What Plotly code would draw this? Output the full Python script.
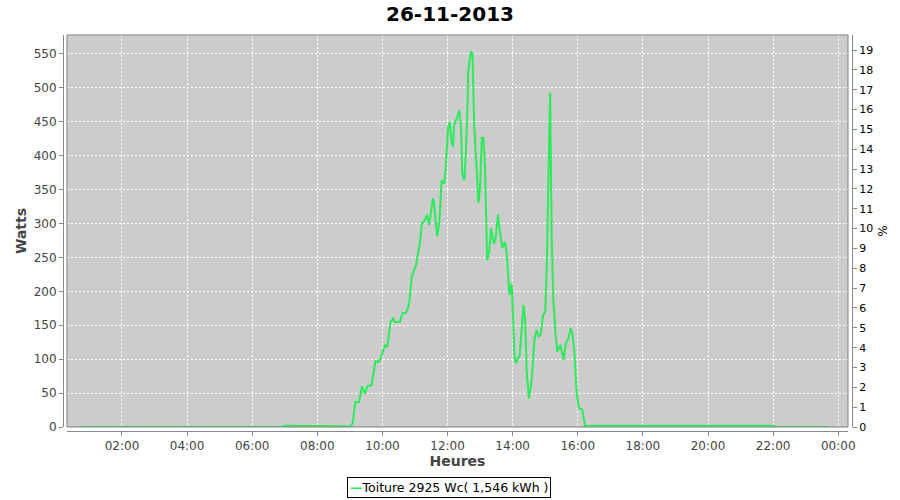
import plotly.graph_objects as go

day = "2013-11-26"
peak_wc = 2925

times = [
    "00:43", "02:00", "03:30", "05:00", "06:55", "07:00", "07:40", "08:20", "08:50", "09:00",
    "09:05", "09:10", "09:17", "09:22", "09:28", "09:32", "09:40", "09:47", "09:54", "10:05",
    "10:09", "10:15", "10:20", "10:23", "10:32", "10:37", "10:43", "10:47", "10:50", "10:54",
    "10:57", "11:02", "11:04", "11:08", "11:13", "11:17", "11:22", "11:26", "11:33", "11:35",
    "11:41", "11:45", "11:49", "11:54", "11:57", "12:01", "12:04", "12:07", "12:10", "12:12",
    "12:17", "12:22", "12:25", "12:27", "12:31", "12:34", "12:37", "12:38", "12:43", "12:46",
    "12:47", "12:49", "12:54", "12:57", "13:00", "13:03", "13:06", "13:09", "13:13", "13:17",
    "13:20", "13:25", "13:28", "13:33", "13:36", "13:41", "13:46", "13:49", "13:54", "13:58",
    "14:01", "14:03", "14:06", "14:13", "14:16", "14:20", "14:23", "14:26", "14:30", "14:35",
    "14:40", "14:44", "14:49", "14:52", "14:56", "15:00", "15:03", "15:06", "15:09", "15:12",
    "15:15", "15:19", "15:22", "15:28", "15:31", "15:34", "15:38", "15:43", "15:47", "15:50",
    "15:54", "15:58", "16:02", "16:08", "16:11", "16:14", "16:20", "18:00", "20:00", "22:00",
    "22:05", "23:44",
]
watts = [
    0, 0, 0, 0, 0, 2, 2, 2, 1, 0,
    5, 37, 37, 60, 49, 60, 62, 97, 96, 121,
    118, 155, 160, 155, 155, 168, 168, 175, 187, 222,
    229, 239, 249, 266, 301, 303, 313, 298, 337, 330,
    281, 303, 364, 359, 386, 441, 450, 423, 413, 445,
    455, 467, 438, 374, 364, 409, 477, 524, 554, 549,
    517, 448, 374, 330, 354, 426, 426, 384, 246, 261,
    293, 271, 274, 313, 291, 264, 273, 256, 195, 211,
    158, 109, 94, 106, 138, 180, 158, 79, 42, 69,
    128, 143, 133, 138, 165, 170, 241, 384, 493, 276,
    187, 138, 111, 121, 109, 99, 123, 131, 146, 138,
    109, 50, 28, 26, 13, 0, 2, 2, 2, 2,
    0, 0,
]

series_name = "Toiture 2925 Wc( 1,546 kWh )"
title_text = "26-11-2013"
x_title = "Heures"
y_title = "Watts"
y2_title = "%"
y_range = [0, 578]
line_color = "#2ceb5a"

x_vals = [f"{day} {t}" for t in times]
pct = [w / peak_wc * 100 for w in watts]

fig = go.Figure()
fig.add_trace(go.Scatter(
    x=x_vals, y=watts, mode="lines", name=series_name, showlegend=False,
    line=dict(color=line_color, width=2),
))
fig.add_trace(go.Scatter(
    x=x_vals, y=pct, mode="lines", yaxis="y2", showlegend=False,
    hoverinfo="skip", line=dict(width=0, color="rgba(0,0,0,0)"),
))

font_family = "DejaVu Sans"
grey = "#444444"
axis_line = "#888888"

fig.update_layout(
    width=900, height=500,
    margin=dict(l=63, r=48, t=35, b=69, autoexpand=False),
    paper_bgcolor="white",
    plot_bgcolor="#cccccc",
    font=dict(family=font_family, size=12, color=grey),
    title=dict(text=f"<b>{title_text}</b>", x=0.5, xanchor="center",
               y=1 - 14 / 500, yanchor="middle", yref="container",
               font=dict(family=font_family, size=20, color="black")),
    showlegend=False,
    xaxis=dict(
        domain=[4 / 789, 1 - 4 / 789],
        anchor="free", position=0, automargin=False,
        type="date",
        range=[f"{day} 00:18:40", "2013-11-27 00:18:00"],
        tick0=f"{day} 00:00", dtick=2 * 3600 * 1000, tickformat="%H:%M",
        showgrid=True, gridcolor="white", griddash="2px,2px", gridwidth=1,
        showline=True, linecolor=axis_line, linewidth=1,
        ticks="outside", ticklen=4, tickcolor=axis_line,
        tickfont=dict(size=12, color=grey),
        title=dict(text=f"<b>{x_title}</b>", font=dict(size=14, color=grey), standoff=3),
        zeroline=False,
    ),
    yaxis=dict(
        domain=[4 / 396, 1],
        anchor="free", position=0, automargin=False,
        range=y_range, dtick=50,
        showgrid=True, gridcolor="white", griddash="2px,2px", gridwidth=1,
        showline=True, linecolor=axis_line, linewidth=1,
        ticks="outside", ticklen=4, tickcolor=axis_line,
        tickfont=dict(size=12, color=grey),
        title=dict(text=f"<b>{y_title}</b>", font=dict(size=14, color=grey), standoff=2),
        zeroline=False,
    ),
    yaxis2=dict(
        overlaying="y", side="right", anchor="free", position=1, automargin=False,
        range=[y_range[0] / peak_wc * 100, y_range[1] / peak_wc * 100], dtick=1,
        showgrid=False, zeroline=False,
        showline=True, linecolor=axis_line, linewidth=1,
        ticks="outside", ticklen=4, tickcolor=axis_line,
        tickfont=dict(size=11, color="black"),
        title=dict(text=y2_title, font=dict(size=12, color="black"), standoff=6),
    ),
    shapes=[dict(type="rect", xref="x domain", yref="y domain", x0=0, x1=1, y0=0, y1=1,
                 line=dict(color="#808080", width=1), layer="above")],
    annotations=[dict(
        text=f"<span style='color:{line_color}'><b>—</b></span>{series_name}",
        xref="paper", yref="paper", x=(449 - 63) / 789, xanchor="center",
        y=-(487 - 431) / 396, yanchor="middle", showarrow=False,
        font=dict(family=font_family, size=12.5, color="black"),
        bordercolor="black", borderwidth=1, borderpad=2, bgcolor="white",
    )],
)

fig.write_html(
    "out.html",
    config={"displayModeBar": False},
    post_script="document.body.style.margin='0';document.body.style.overflow='hidden';",
)
